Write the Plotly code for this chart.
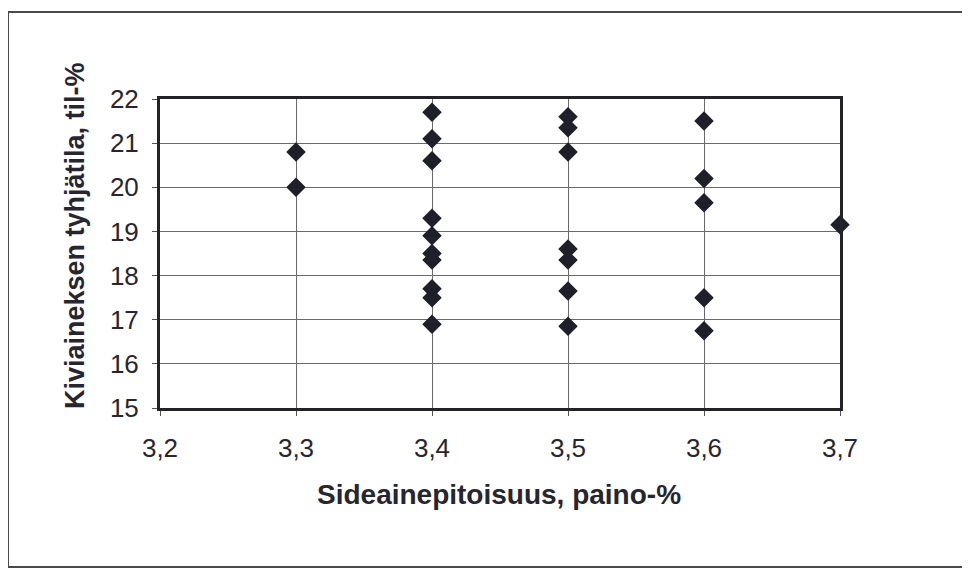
import plotly.graph_objects as go

# Data
sideaine = [3.3, 3.3,
            3.4, 3.4, 3.4, 3.4, 3.4, 3.4, 3.4, 3.4, 3.4, 3.4,
            3.5, 3.5, 3.5, 3.5, 3.5, 3.5, 3.5,
            3.6, 3.6, 3.6, 3.6, 3.6,
            3.7]
tyhjatila = [20.8, 20.0,
             21.7, 21.1, 20.6, 19.3, 18.9, 18.5, 18.35, 17.7, 17.5, 16.9,
             21.6, 21.35, 20.8, 18.6, 18.35, 17.65, 16.85,
             21.5, 20.2, 19.65, 17.5, 16.75,
             19.15]

x_ticks = [3.2, 3.3, 3.4, 3.5, 3.6, 3.7]
x_ticklabels = ["3,2", "3,3", "3,4", "3,5", "3,6", "3,7"]
y_ticks = [15, 16, 17, 18, 19, 20, 21, 22]

x_title = "Sideainepitoisuus, paino-%"
y_title = "Kiviaineksen tyhjätila, til-%"

FONT = "Liberation Sans, Arial, sans-serif"
TXT = "#262630"

# page body has an 8px margin; compensate
OFF = 8
L, T, PW, PH = 160 - OFF, 99 - OFF, 680, 309
W, H = 970 - OFF, 571 - OFF


def px(x):
    return (x - OFF - L) / PW


def py(y):
    return (T + PH - (y - OFF)) / PH


fig = go.Figure()
fig.add_trace(go.Scatter(
    x=sideaine, y=tyhjatila, mode="markers",
    marker=dict(symbol="diamond", size=15, color="#1f1f29",
                line=dict(width=0)),
    showlegend=False, cliponaxis=False,
))

frame = dict(color="#4a4a4a", width=2)

fig.update_layout(
    width=W, height=H,
    margin=dict(l=L, r=W - L - PW, t=T, b=H - T - PH),
    paper_bgcolor="white", plot_bgcolor="white",
    font=dict(family=FONT, color=TXT, size=26),
    xaxis=dict(
        range=[3.2, 3.7], tickvals=x_ticks, ticktext=x_ticklabels,
        showgrid=True, gridcolor="#6a6a6a", gridwidth=1,
        showline=True, linecolor="#222228", linewidth=3, mirror=True,
        ticks="outside", ticklen=5, tickwidth=1, tickcolor="#555",
        ticklabelstandoff=10, zeroline=False,
        tickfont=dict(size=26, family=FONT, color=TXT),
    ),
    yaxis=dict(
        range=[15, 22], tickvals=y_ticks,
        showgrid=True, gridcolor="#6a6a6a", gridwidth=1,
        showline=True, linecolor="#222228", linewidth=3, mirror=True,
        ticks="outside", ticklen=5, tickwidth=1, tickcolor="#555",
        ticklabelstandoff=8, zeroline=False,
        tickfont=dict(size=26, family=FONT, color=TXT),
    ),
    annotations=[
        dict(text="<b>%s</b>" % x_title, xref="paper", yref="paper",
             x=px(499), y=py(495),
             xanchor="center", yanchor="middle", showarrow=False,
             font=dict(size=28, family=FONT, color=TXT)),
        dict(text="<b>%s</b>" % y_title, xref="paper", yref="paper",
             x=px(75), y=py(236), textangle=-90,
             xanchor="center", yanchor="middle", showarrow=False,
             font=dict(size=27, family=FONT, color=TXT)),
    ],
    shapes=[
        dict(type="line", xref="paper", yref="paper",
             x0=px(8), x1=px(970), y0=py(12), y1=py(12), line=frame),
        dict(type="line", xref="paper", yref="paper",
             x0=px(8), x1=px(8), y0=py(12), y1=py(567), line=frame),
        dict(type="line", xref="paper", yref="paper",
             x0=px(8), x1=px(970), y0=py(567), y1=py(567), line=frame),
    ],
)

fig.write_html("out.html")
